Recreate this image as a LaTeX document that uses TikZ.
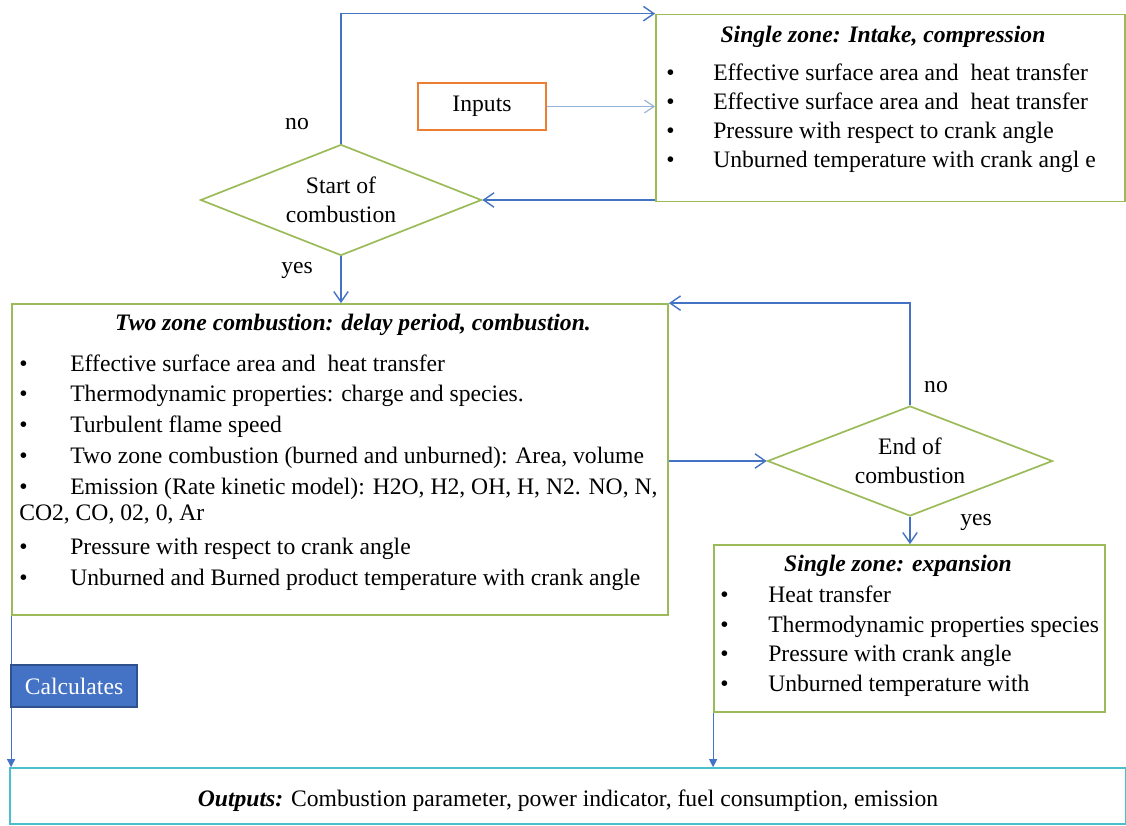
\documentclass[tikz,border=0pt]{standalone}
\usepackage{fontspec}
\setmainfont{Liberation Serif}
\usetikzlibrary{shapes.geometric,arrows.meta}
\definecolor{boxgreen}{HTML}{9BBB59}
\definecolor{flowblue}{HTML}{4472C4}
\definecolor{inblue}{HTML}{95B3D7}
\definecolor{inorange}{HTML}{ED7D31}
\definecolor{calcedge}{HTML}{2F528F}
\definecolor{outcyan}{HTML}{4BBFCB}
\newcommand{\bodyfont}{\fontsize{16.8}{20.6}\selectfont}
\tikzset{
  zonebox/.style={draw=boxgreen, line width=1.2pt, inner sep=0pt},
  decision/.style={diamond, aspect=2.6, draw=boxgreen, line width=1.2pt, inner sep=0pt, align=center, font=\bodyfont},
  flow/.style={draw=flowblue, line width=1pt, -{Straight Barb[length=2.6mm, width=3.6mm]}},
  flowend/.style={draw=flowblue, line width=0.8pt, -{Triangle[length=2mm, width=2mm]}},
  heading/.style={font=\bodyfont\bfseries\itshape},
  itemlist/.style={anchor=west, align=left, inner sep=0pt, font=\bodyfont},
}
\begin{document}
\begin{tikzpicture}[x=0.025cm, y=-0.025cm]
  \useasboundingbox[fill=white] (0,0) rectangle (1126,825);
  % boxes
  \node[zonebox, minimum width=11.725cm, minimum height=4.675cm] (intake) at (890.5,108) {};
  \node[draw=inorange, line width=1.2pt, minimum width=3.2cm, minimum height=1.175cm, font=\bodyfont] (inputs) at (482,106.5) {Inputs};
  \node[decision, minimum width=7.025cm, minimum height=2.775cm] (startcomb) at (341,200) {Start of\\combustion};
  \node[zonebox, minimum width=16.4cm, minimum height=7.775cm] (twozone) at (340,459.5) {};
  \node[decision, minimum width=7.125cm, minimum height=2.75cm] (endcomb) at (910,461) {End of\\combustion};
  \node[zonebox, minimum width=9.775cm, minimum height=4.175cm] (expansion) at (909.5,628.5) {};
  \node[draw=outcyan, line width=1.2pt, minimum width=27.9cm, minimum height=1.4cm] (outputs) at (568,796) {};
  % texts
  \node[heading] (intaketitle) at (883,37) {Single zone: Intake, compression};
  \node[itemlist] (intakeitems) at (666,118) {\begin{tabular}{@{}p{1.175cm}@{}l@{}}
    \textbullet & Effective surface area and \ heat transfer\\
    \textbullet & Effective surface area and \ heat transfer\\
    \textbullet & Pressure with respect to crank angle\\
    \textbullet & Unburned temperature with crank angl e
  \end{tabular}};
  \node[heading] (twozonetitle) at (353,325) {Two zone combustion: delay period, combustion.};
  \node[itemlist, font=\fontsize{16.8}{21.9}\selectfont] (twozoneitems) at (19,472) {\begin{tabular}{@{}p{1.275cm}@{}l@{}}
    \textbullet & Effective surface area and \ heat transfer\\
    \textbullet & Thermodynamic properties: charge and species.\\
    \textbullet & Turbulent flame speed\\
    \textbullet & Two zone combustion (burned and unburned): Area, volume\\
    \textbullet & Emission (Rate kinetic model): H2O, H2, OH, H, N2. NO, N,\\[-3pt]
    \multicolumn{2}{@{}l@{}}{CO2, CO, 02, 0, Ar}\\[2pt]
    \textbullet & Pressure with respect to crank angle\\
    \textbullet & Unburned and Burned product temperature with crank angle
  \end{tabular}};
  \node[heading] (expansiontitle) at (898,566) {Single zone: expansion};
  \node[itemlist, font=\fontsize{16.8}{21.3}\selectfont] (expansionitems) at (720,641) {\begin{tabular}{@{}p{1.2cm}@{}l@{}}
    \textbullet & Heat transfer\\
    \textbullet & Thermodynamic properties species\\
    \textbullet & Pressure with crank angle\\
    \textbullet & Unburned temperature with
  \end{tabular}};
  \node[font=\bodyfont] (outputstext) at (568,801) {\textbf{\textit{Outputs:}} Combustion parameter, power indicator, fuel consumption, emission};
  % connectors
  \draw[flow] (startcomb.north) |- (intake.north west);
  \draw[draw=inblue, line width=0.8pt, -{Straight Barb[length=2.4mm, width=3.2mm]}] (inputs.east) -- (inputs.east -| intake.west);
  \draw[flow] (intake.west |- startcomb.east) -- (startcomb.east);
  \draw[flow] (startcomb.south) -- (startcomb.south |- twozone.north);
  \draw[flow] (twozone.east |- endcomb.west) -- (endcomb.west);
  \draw[flow] (endcomb.north) |- (twozone.north east);
  \draw[flow] (endcomb.south) -- (endcomb.south |- expansion.north);
  \draw[flowend] (twozone.south west) -- (twozone.south west |- outputs.north);
  \draw[flowend] (expansion.south west) -- (expansion.south west |- outputs.north);
  \node[draw=calcedge, fill=flowblue, line width=1pt, text=white, minimum width=3.15cm, minimum height=1.05cm, font=\bodyfont] (calc) at (74,686) {Calculates};
  % labels
  \node[font=\bodyfont] (nostart) at (297,124) {no};
  \node[font=\bodyfont] (yesstart) at (297,270) {yes};
  \node[font=\bodyfont] (noend) at (936,387) {no};
  \node[font=\bodyfont] (yesend) at (976,522) {yes};
\end{tikzpicture}
\end{document}
